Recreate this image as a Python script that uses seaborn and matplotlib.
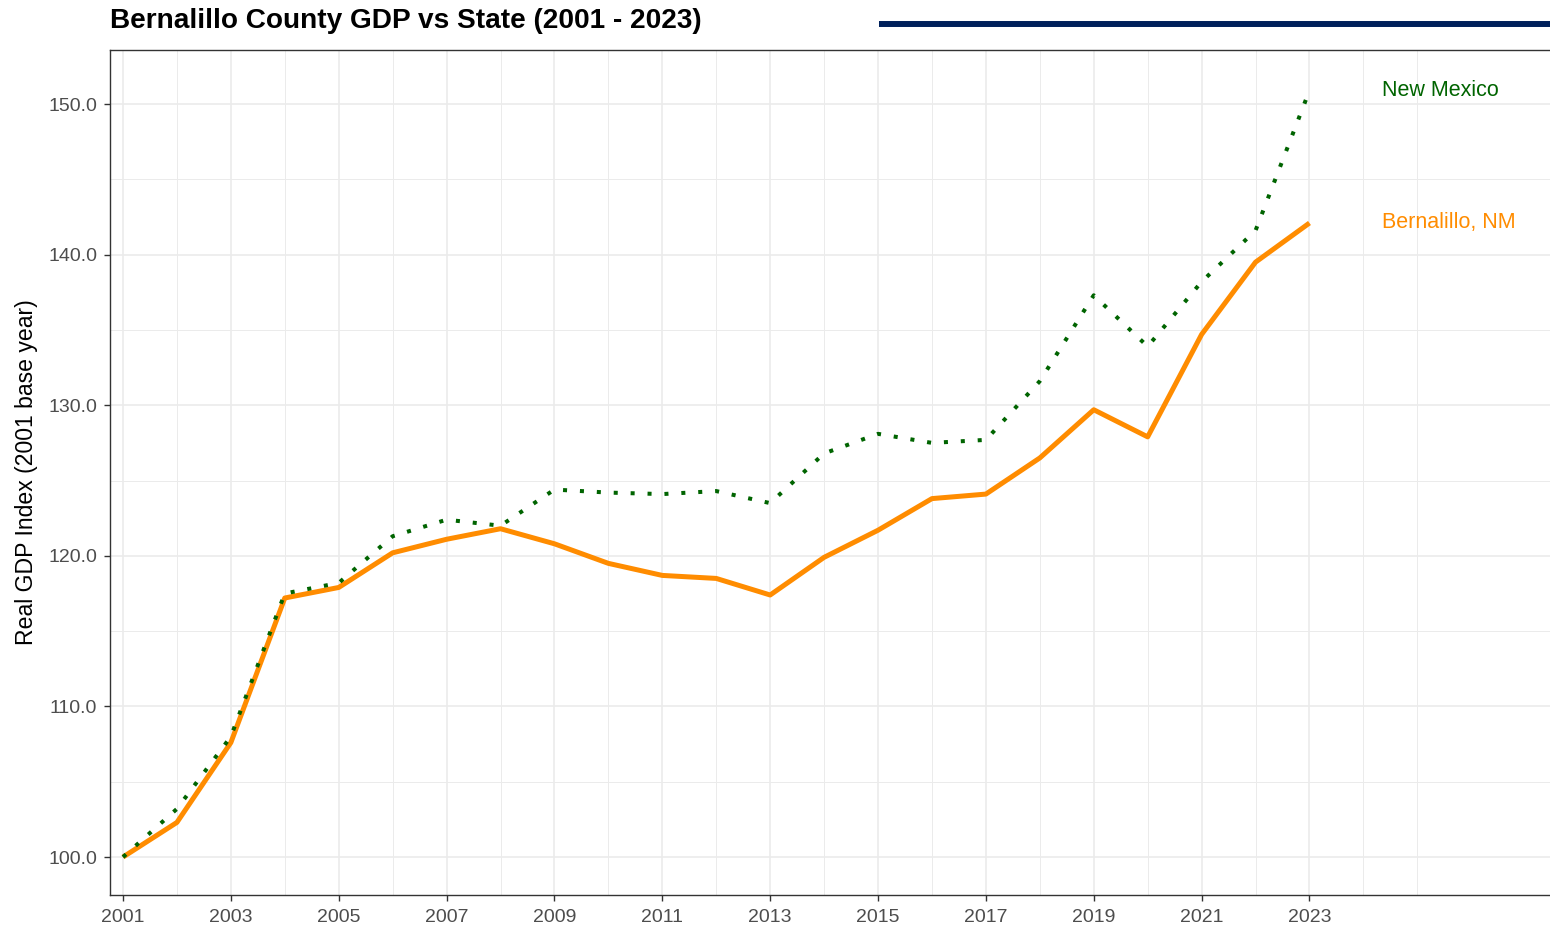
import matplotlib
matplotlib.use("Agg")
import matplotlib.pyplot as plt
from matplotlib.lines import Line2D
from matplotlib.ticker import FixedLocator, FormatStrFormatter
import seaborn as sns
import pandas as pd

years = list(range(2001, 2024))
new_mexico = [100.0, 103.2, 108.0, 117.5, 118.2, 121.3, 122.4, 122.0, 124.4, 124.2,
              124.1, 124.3, 123.5, 126.8, 128.1, 127.5, 127.7, 131.6, 137.3, 133.9,
              138.2, 141.6, 150.9]
bernalillo = [100.0, 102.3, 107.6, 117.2, 117.9, 120.2, 121.1, 121.8, 120.8, 119.5,
              118.7, 118.5, 117.4, 119.9, 121.7, 123.8, 124.1, 126.5, 129.7, 127.9,
              134.7, 139.5, 142.1]
series_names = ["New Mexico", "Bernalillo, NM"]
title = "Bernalillo County GDP vs State (2001 - 2023)"
y_label = "Real GDP Index (2001 base year)"
x_major = list(range(2001, 2024, 2))
x_minor = list(range(2002, 2026, 2)) + [2025]
y_major = [100, 110, 120, 130, 140, 150]
y_minor = [105, 115, 125, 135, 145]

df_nm = pd.DataFrame({"year": years, "value": new_mexico})
df_be = pd.DataFrame({"year": years, "value": bernalillo})

sns.set_theme(style="white")
plt.rcParams["font.family"] = ["Liberation Sans", "DejaVu Sans"]

W, H = 1550, 927
fig = plt.figure(figsize=(W / 100, H / 100), dpi=100)
ax = fig.add_axes([110 / W, (H - 895) / H, (W - 110) / W, (895 - 49.5) / H])

ORANGE = "#FF8C00"
GREEN = "#006400"

sns.lineplot(data=df_be, x="year", y="value", ax=ax, color=ORANGE,
             linewidth=3.6, solid_capstyle="butt", zorder=3)
sns.lineplot(data=df_nm, x="year", y="value", ax=ax, color=GREEN,
             linewidth=2.9, linestyle=(0, (1, 3.2)), zorder=4)

ax.set_xlim(2000.759, 2027.46)
ax.set_ylim(97.48, 153.62)

ax.xaxis.set_major_locator(FixedLocator(x_major))
ax.xaxis.set_minor_locator(FixedLocator(x_minor))
ax.yaxis.set_major_locator(FixedLocator(y_major))
ax.yaxis.set_minor_locator(FixedLocator(y_minor))
ax.yaxis.set_major_formatter(FormatStrFormatter("%.1f"))

ax.grid(which="major", color="#EBEBEB", linewidth=1.2, zorder=0)
ax.grid(which="minor", color="#EBEBEB", linewidth=0.7, zorder=0)
ax.set_axisbelow(True)

for side in ["left", "bottom", "top"]:
    ax.spines[side].set_visible(True)
    ax.spines[side].set_color("#333333")
    ax.spines[side].set_linewidth(1.0)
ax.spines["right"].set_visible(False)

ax.tick_params(axis="both", which="major", length=4.3, width=1.0, color="#333333",
               labelsize=14, labelcolor="#4D4D4D")
ax.tick_params(axis="x", which="major", pad=6, bottom=True)
ax.tick_params(axis="y", which="major", pad=5, left=True)
ax.tick_params(which="minor", length=0)

ax.set_xlabel("")
ax.set_ylabel(y_label, fontsize=16.6, color="black", va="baseline")
ax.yaxis.set_label_coords((33 - 110) / 1440, 0.5)

# End labels
ax.text(2024.35, new_mexico[-1], series_names[0], color=GREEN, fontsize=15.5,
        ha="left", va="center")
ax.text(2024.35, bernalillo[-1], series_names[1], color=ORANGE, fontsize=15.5,
        ha="left", va="center")

fig.text(110 / W, 1 - 28 / H, title, fontsize=20.2, fontweight="bold",
         ha="left", va="baseline", color="black")
fig.add_artist(Line2D([879 / W, 1.0], [1 - 24 / H, 1 - 24 / H], color="#00205B",
                      linewidth=4.3, solid_capstyle="butt"))

fig.savefig("out.png", dpi=100)
